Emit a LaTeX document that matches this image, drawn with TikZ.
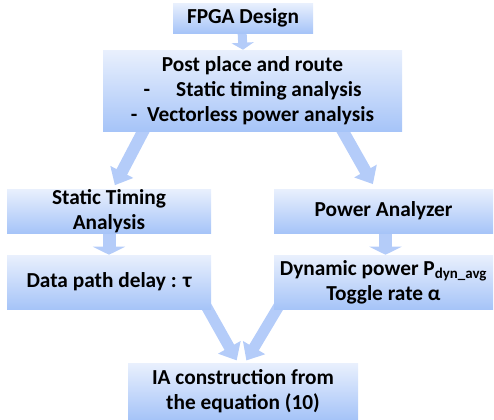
\documentclass[tikz,border=0pt]{standalone}
\usepackage{fontspec}
\setmainfont{Carlito}
\usetikzlibrary{arrows.meta,calc,backgrounds}
\definecolor{boxtop}{RGB}{233,240,253}
\definecolor{boxbot}{RGB}{166,196,248}
\definecolor{arrowblue}{RGB}{180,204,249}
\tikzset{
  boxnode/.style={top color=boxtop, bottom color=boxbot, inner sep=0pt, align=center,
    font=\fontsize{16}{18.75}\selectfont\bfseries},
  flowarrow/.style={draw=arrowblue, line width=9pt,
    -{Triangle[width=18.75pt,length=11.25pt]}},
  smallarrow/.style={draw=arrowblue, line width=9.75pt,
    -{Triangle[width=24pt,length=6pt]}}
}
\begin{document}
\begin{tikzpicture}[x=0.75pt,y=-0.75pt]
\useasboundingbox (0,0) rectangle (494,419);

\node[boxnode, minimum width=140*0.75pt, minimum height=30*0.75pt] (fpga) at (243,18) {FPGA Design};
\node[boxnode, minimum width=299*0.75pt, minimum height=81*0.75pt] (post) at (252.5,90.5)
  {Post place and route\\-\quad\ Static timing analysis\\-\ \ Vectorless power analysis};

\node[boxnode, minimum width=204*0.75pt, minimum height=44*0.75pt] (sta) at (109,211) {Static Timing\\Analysis};
\node[boxnode, minimum width=219*0.75pt, minimum height=44*0.75pt] (pa) at (383.5,211) {Power Analyzer};

\node[boxnode, minimum width=204*0.75pt, minimum height=54*0.75pt] (dpd) at (109,282) {Data path delay : τ};
\node[boxnode, minimum width=219*0.75pt, minimum height=54*0.75pt] (dyn) at (383.5,282)
  {Dynamic power P\textsubscript{dyn\_avg}\\Toggle rate α};

\node[boxnode, minimum width=230*0.75pt, minimum height=56*0.75pt] (ia) at (243,391)
  {IA construction from\\the equation (10)};

% arrows behind the boxes
\begin{scope}[on background layer]
\draw[draw=arrowblue, line width=6.75pt, -{Triangle[width=16.5pt,length=5.25pt]}]
  ($(fpga.south)+(-1,-3)$) -- (fpga.south |- post.north);
\draw[flowarrow, shorten >=3pt] ($(post.south west)+(42,-3)$) -- ($(sta.north)+(4,0)$);
\draw[flowarrow, shorten >=4pt] ($(post.south east)+(-61,-3)$) -- ($(pa.north)+(-8,0)$);
\draw[smallarrow] ($(sta.south)+(0,-3)$) -- (dpd.north);
\draw[smallarrow] ($(pa.south)+(2,-3)$) -- ($(dyn.north)+(2,0)$);
\draw[flowarrow, line width=8.25pt, shorten >=2pt] ($(dpd.south east)+(-5,-3)$) -- ($(ia.north)+(-5,0)$);
\draw[flowarrow, line width=8.25pt, shorten >=2pt] ($(dyn.south west)+(5,-3)$) -- ($(ia.north)+(2,0)$);
\end{scope}
\end{tikzpicture}
\end{document}
